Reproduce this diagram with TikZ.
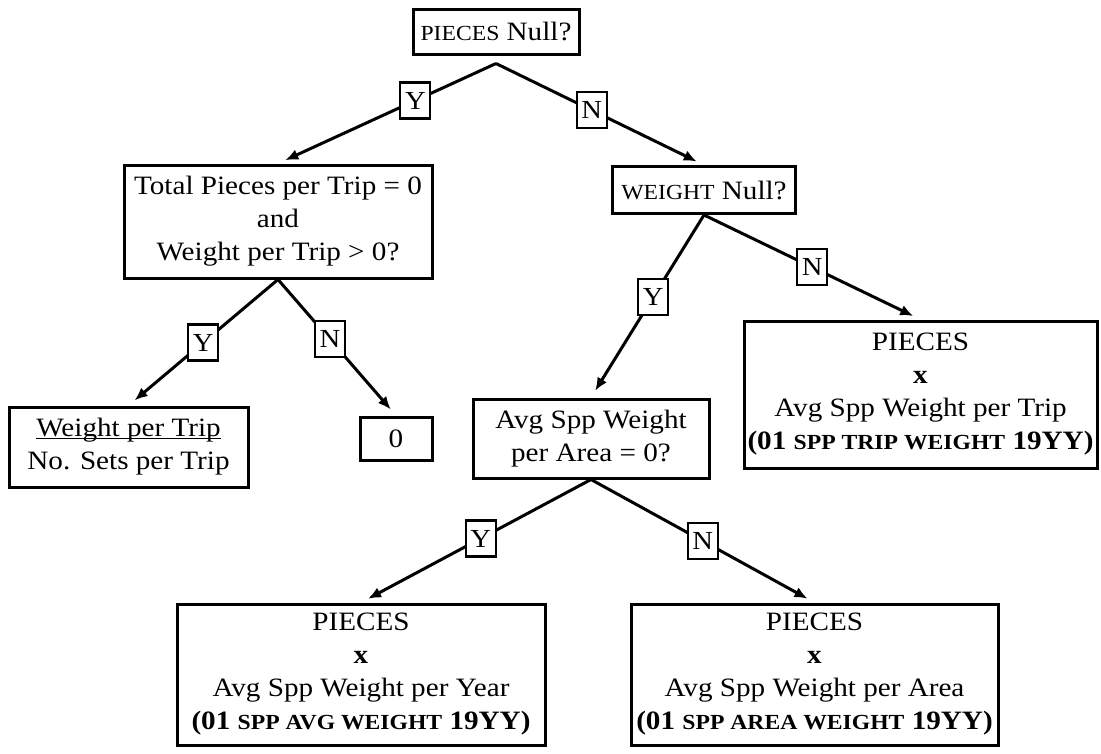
\documentclass[tikz,border=0pt]{standalone}
\usepackage{fontspec}
\setmainfont{Liberation Serif}[FakeStretch=1.1]
\usetikzlibrary{arrows.meta}
\newcommand{\smc}[1]{{\fontsize{21.5}{33}\selectfont #1}}
\begin{document}
\begin{tikzpicture}[x=1pt, y=-1pt,
    font=\fontsize{26.5}{33}\selectfont,
    box/.style={draw, line width=3pt, fill=white, align=center, inner sep=0pt},
    yn/.style={draw, line width=2.2pt, fill=white, inner sep=0pt, minimum width=30pt, minimum height=36pt, font=\fontsize{26}{30}\selectfont},
    arr/.style={line width=3pt, -{Latex[length=13pt,width=11pt]}, shorten >=8pt}]
      \useasboundingbox (0,0) rectangle (1101,753);
      \node[box, minimum width=166pt, minimum height=45pt] (pnull) at (496,31.5) {\smc{PIECES} Null?};
      \node[box, minimum width=308pt, minimum height=113pt] (total) at (278,221.5) {Total Pieces per Trip = 0\\and\\Weight per Trip > 0?};
      \node[box, minimum width=183pt, minimum height=47pt] (wnull) at (704,190) {\smc{WEIGHT} Null?};
      \node[box, minimum width=239pt, minimum height=80pt] (ratio) at (128.5,447) {\underbar{Weight per Trip}\\No. Sets per Trip};
      \node[box, minimum width=72pt, minimum height=43pt] (zero) at (396,438.5) {0};
      \node[box, minimum width=236pt, minimum height=79pt] (area) at (591,438.5) {Avg Spp Weight\\per Area = 0?};
      \node[box, minimum width=353pt, minimum height=147pt] (trip) at (920.5,394.5) {PIECES\\\textbf{x}\\Avg Spp Weight per Trip\\\textbf{(01 \smc{SPP TRIP WEIGHT} 19YY)}};
      \node[box, minimum width=368pt, minimum height=141pt] (year) at (361,674.5) {PIECES\\\textbf{x}\\Avg Spp Weight per Year\\\textbf{(01 \smc{SPP AVG WEIGHT} 19YY)}};
      \node[box, minimum width=367pt, minimum height=141pt] (areaw) at (814.5,674.5) {PIECES\\\textbf{x}\\Avg Spp Weight per Area\\\textbf{(01 \smc{SPP AREA WEIGHT} 19YY)}};
      \coordinate (papex) at ([yshift=-8pt]pnull.south);
      \draw[arr] (papex) -- node[yn, pos=.37] {Y} (total.north);
      \draw[arr] (papex) -- node[yn, pos=.46] {N} (wnull.north);
      \draw[arr] (total.south) -- node[yn, pos=.5] {Y} (ratio.north);
      \draw[arr] (total.south) -- node[yn, pos=.44] {N} (zero.north);
      \draw[arr] (wnull.south) -- node[yn, pos=.45] {Y} (area.north);
      \draw[arr] (wnull.south) -- node[yn, pos=.5] {N} (trip.north);
      \draw[arr] (area.south) -- node[yn, pos=.48] {Y} (year.north);
      \draw[arr] (area.south) -- node[yn, pos=.5] {N} (areaw.north);
    \end{tikzpicture}
\end{document}
